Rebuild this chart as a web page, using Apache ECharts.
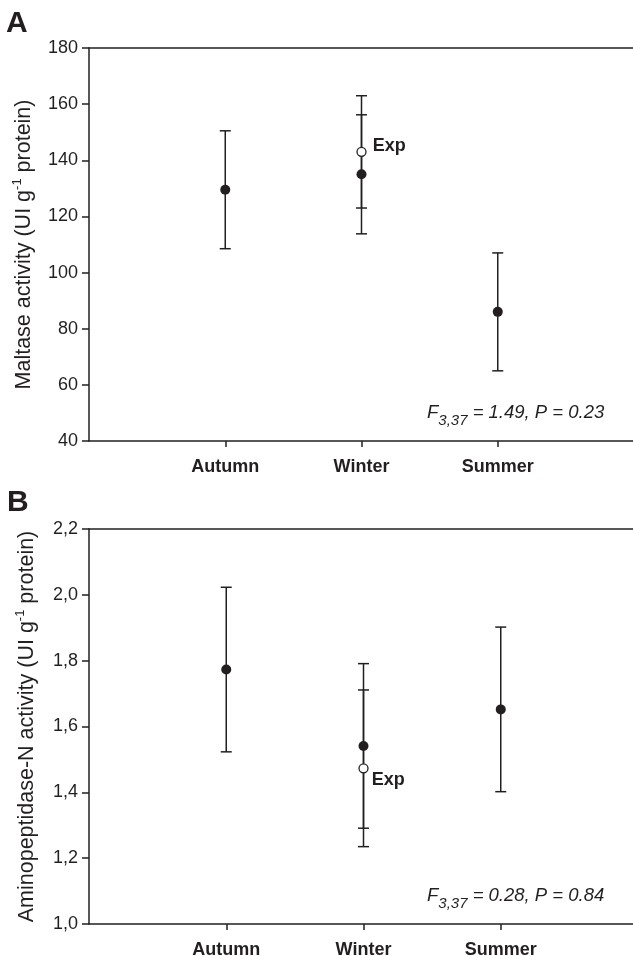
<!DOCTYPE html>
<html>
<head>
<meta charset="utf-8">
<script src="https://cdn.jsdelivr.net/npm/echarts@6/dist/echarts.min.js"></script>
<style>html,body{margin:0;padding:0;background:#fff;}#c{width:633px;height:956px;}</style>
</head>
<body>
<div id="c"></div>
<script>
// ---- data ----
const categories = ['Autumn', 'Winter', 'Summer'];
const maltaseMean = [129.5, 135, 86];
const maltaseErr = [21, 21.2, 21];
const maltaseExpCat = 'Winter';
const maltaseExpMean = 143;
const maltaseExpErr = 20;
const maltaseTicks = [40, 60, 80, 100, 120, 140, 160, 180];

const apnMean = [1.773, 1.541, 1.652];
const apnErr = [0.25, 0.25, 0.25];
const apnExpCat = 'Winter';
const apnExpMean = 1.473;
const apnExpErr = 0.238;
const apnTicks = [1.0, 1.2, 1.4, 1.6, 1.8, 2.0, 2.2];

const statA = ['3,37', ' = 1.49, P = 0.23'];
const statB = ['3,37', ' = 0.28, P = 0.84'];

// ---- helpers ----
const INK = '#231f20';
const FONT = "'Liberation Sans', Arial, Helvetica, sans-serif";
const catPos = c => categories.indexOf(c) + 1;

function errData(means, errs) {
  return means.map((m, i) => [i + 1, m - errs[i], m + errs[i]]);
}
function errSeries(idx, data) {
  return {
    type: 'custom', xAxisIndex: idx * 2, yAxisIndex: idx, z: 2,
    data: data,
    renderItem: function (params, api) {
      const x = api.value(0);
      const lo = api.coord([x, api.value(1)]);
      const hi = api.coord([x, api.value(2)]);
      const hw = 5.5;
      const st = { stroke: INK, lineWidth: 1.5 };
      return { type: 'group', children: [
        { type: 'line', shape: { x1: lo[0], y1: lo[1], x2: hi[0], y2: hi[1] }, style: st },
        { type: 'line', shape: { x1: lo[0] - hw, y1: lo[1], x2: lo[0] + hw, y2: lo[1] }, style: st },
        { type: 'line', shape: { x1: hi[0] - hw, y1: hi[1], x2: hi[0] + hw, y2: hi[1] }, style: st }
      ]};
    }
  };
}
function yAxis(idx, min, max, interval, fmt, name) {
  return {
    gridIndex: idx, type: 'value', min: min, max: max, interval: interval,
    axisLine: { show: true, lineStyle: { color: INK, width: 1.5 } },
    axisTick: { show: true, length: 7, lineStyle: { color: INK, width: 1.5 } },
    axisLabel: { color: INK, fontSize: 18, fontFamily: FONT, margin: 11, formatter: fmt },
    splitLine: { show: false },
    name: name,
    nameLocation: 'middle', nameRotate: 90, nameGap: 49,
    nameTextStyle: {
      color: INK, fontFamily: FONT, fontSize: 21.5, lineHeight: 26,
      rich: {
        n: { fontSize: 21.5, fontFamily: FONT, color: INK, lineHeight: 26, verticalAlign: 'middle' },
        s: { fontSize: 13, fontFamily: FONT, color: INK, lineHeight: 26, verticalAlign: 'top' }
      }
    }
  };
}
function xAxes(idx) {
  return [{
    gridIndex: idx, type: 'value', min: 0, max: 4, interval: 1,
    axisLine: { show: true, lineStyle: { color: INK, width: 1.5 } },
    axisTick: { show: true, length: 6, customValues: [1, 2, 3], lineStyle: { color: INK, width: 1.5 } },
    axisLabel: { customValues: [1, 2, 3], color: INK, fontSize: 18, fontWeight: 'bold', fontFamily: FONT, margin: 17,
      formatter: v => categories[Math.round(v) - 1] || '' },
    splitLine: { show: false }
  }, {
    gridIndex: idx, type: 'value', position: 'top', min: 0, max: 4,
    axisLine: { show: true, lineStyle: { color: INK, width: 1.5 } },
    axisTick: { show: false }, axisLabel: { show: false }, splitLine: { show: false }
  }];
}
function meanSeries(idx, means) {
  return {
    type: 'scatter', xAxisIndex: idx * 2, yAxisIndex: idx, z: 5,
    symbol: 'circle', symbolSize: 10,
    itemStyle: { color: INK, opacity: 1 },
    data: means.map((m, i) => [i + 1, m])
  };
}
function expSeries(idx, cat, mean, offset, dist) {
  return {
    type: 'scatter', xAxisIndex: idx * 2, yAxisIndex: idx, z: 6,
    symbol: 'circle', symbolSize: 9,
    itemStyle: { color: '#ffffff', borderColor: INK, borderWidth: 1.3, opacity: 1 },
    label: { show: true, position: 'right', distance: dist, offset: offset, formatter: 'Exp',
      color: INK, fontSize: 18, fontWeight: 'bold', fontFamily: FONT },
    data: [[catPos(cat), mean]]
  };
}
function statText(x, y, parts) {
  return {
    type: 'text', x: x, y: y, z: 10,
    style: {
      text: '{f|F}{s|' + parts[0] + '}{f|' + parts[1] + '}',
      verticalAlign: 'middle', align: 'left',
      rich: {
        f: { fontSize: 18.5, fontStyle: 'italic', fontFamily: FONT, fill: INK, lineHeight: 30, verticalAlign: 'middle' },
        s: { fontSize: 15, fontStyle: 'italic', fontFamily: FONT, fill: INK, lineHeight: 14, verticalAlign: 'bottom' }
      }
    }
  };
}

const chart = echarts.init(document.getElementById('c'), null, { renderer: 'canvas' });
chart.setOption({
  animation: false,
  backgroundColor: '#ffffff',
  textStyle: { fontFamily: FONT },
  grid: [
    { left: 89, top: 48, width: 545, height: 393, containLabel: false, outerBoundsMode: 'none' },
    { left: 89, top: 529, width: 549, height: 395, containLabel: false, outerBoundsMode: 'none' }
  ],
  xAxis: xAxes(0).concat(xAxes(1)),
  yAxis: [
    yAxis(0, maltaseTicks[0], maltaseTicks[maltaseTicks.length - 1], 20, v => String(v),
      '{n|Maltase activity (UI g}{s|-1}{n| protein)}'),
    yAxis(1, apnTicks[0], apnTicks[apnTicks.length - 1], 0.2, v => v.toFixed(1).replace('.', ','),
      '{n|Aminopeptidase-N activity (UI g}{s|-1}{n| protein)}')
  ],
  series: [
    errSeries(0, errData(maltaseMean, maltaseErr)),
    errSeries(0, [[catPos(maltaseExpCat), maltaseExpMean - maltaseExpErr, maltaseExpMean + maltaseExpErr]]),
    meanSeries(0, maltaseMean),
    expSeries(0, maltaseExpCat, maltaseExpMean, [0, -6], 6),
    errSeries(1, errData(apnMean, apnErr)),
    errSeries(1, [[catPos(apnExpCat), apnExpMean - apnExpErr, apnExpMean + apnExpErr]]),
    meanSeries(1, apnMean),
    expSeries(1, apnExpCat, apnExpMean, [0, 12], 3)
  ],
  graphic: [
    { type: 'text', x: 6, y: 24, style: { text: 'A', fontSize: 30, fontWeight: 'bold', fontFamily: FONT, fill: INK, verticalAlign: 'middle' } },
    { type: 'text', x: 7, y: 503, style: { text: 'B', fontSize: 30, fontWeight: 'bold', fontFamily: FONT, fill: INK, verticalAlign: 'middle' } },
    statText(427, 413, statA),
    statText(427, 896, statB)
  ]
});
</script>
</body>
</html>
